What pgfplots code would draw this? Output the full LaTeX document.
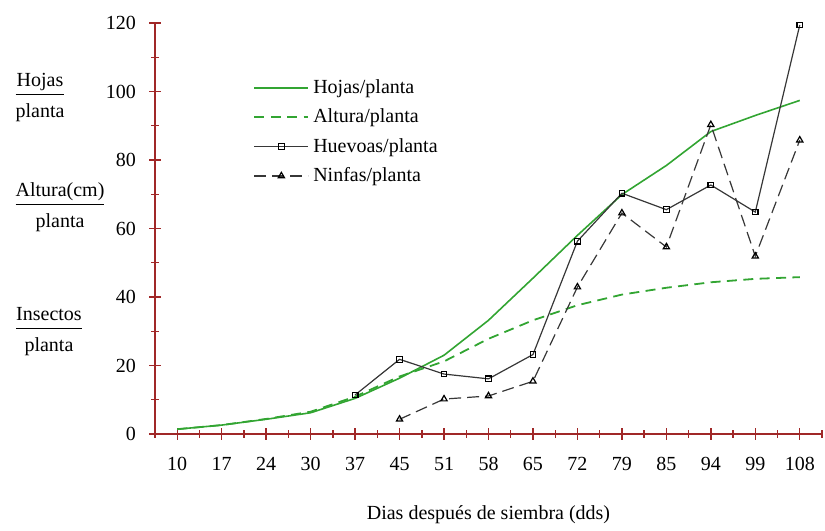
\documentclass[border=0pt]{standalone}
\usepackage{pgfplots}
\pgfplotsset{compat=1.18}
\usepackage{fontspec}
\setmainfont{Liberation Serif}
\definecolor{axisred}{RGB}{160,40,40}
\definecolor{hgreen}{RGB}{50,165,50}
\definecolor{dgray}{RGB}{55,55,55}
\setlength{\arrayrulewidth}{0.7pt}
\begin{document}
\begin{tikzpicture}
\begin{axis}[
  scale only axis,
  width=333.5pt, height=205.5pt,
  xmin=-0.5, xmax=14.5, ymin=0, ymax=120,
  axis lines*=left,
  axis line style={draw=axisred, line width=0.8pt},
  every tick/.style={draw=axisred, line width=0.7pt},
  tick align=center,
  major tick length=6pt, minor tick length=4pt,
  xtick={0,...,14},
  xticklabels={10,17,24,30,37,45,51,58,65,72,79,85,94,99,108},
  minor xtick={-0.5,0.5,...,14.5},
  ytick={0,20,...,120},
  minor ytick={10,30,...,110},
  /pgf/number format/assume math mode=true,
  xticklabel style={yshift=-5pt},
  yticklabel style={xshift=-3pt},
  tick label style={font=\fontsize{10}{12}\selectfont},
  xlabel={Dias después de siembra (dds)},
  xlabel style={at={(axis description cs:0.5,-0.197)}, anchor=center, font=\fontsize{10}{12}\selectfont},
  clip=false,
  legend style={at={(rel axis cs:0.147,0.873)}, anchor=north west, draw=none, fill=none,
    font=\fontsize{10}{12}\selectfont, row sep=2.2pt, inner sep=0pt},
  legend cell align=left,
  legend image code/.code={\draw[mark repeat=2,mark phase=2,#1] plot coordinates {(0pt,0pt) (13.5pt,0pt) (27pt,0pt)};},
]
\addplot[hgreen, line width=0.8pt, no marks] coordinates {
(0,1.4) (1,2.6) (2,4.3) (3,6.2) (4,10.4) (5,16.3) (6,23) (7,33.2) (8,45.5) (9,58) (10,69.9) (11,78.4) (12,88.3) (13,93) (14,97.4)};
\addlegendentry{Hojas/planta}
\addplot[hgreen, line width=0.9pt, no marks, dash pattern=on 5pt off 3.2pt] coordinates {
(0,1.4) (1,2.6) (2,4.4) (3,6.5) (4,10.9) (5,16.8) (6,21.2) (7,27.8) (8,33.2) (9,37.6) (10,40.7) (11,42.7) (12,44.3) (13,45.3) (14,45.8)};
\addlegendentry{Altura/planta}
\addplot[dgray, line width=0.6pt, mark=square, mark size=1.4pt, mark options={solid, black, line width=0.6pt}] coordinates {
(4,11.4) (5,21.8) (6,17.5) (7,16.1) (8,23.2) (9,56.3) (10,70.3) (11,65.5) (12,72.7) (13,64.8) (14,119.4)};
\addlegendentry{Huevoas/planta}
\addplot[dgray, line width=0.6pt, dash pattern=on 6pt off 3pt, mark=triangle, mark size=1.8pt, mark options={solid, black, line width=0.6pt}] coordinates {
(5,4.3) (6,10.2) (7,11.1) (8,15.4) (9,42.9) (10,64.5) (11,54.6) (12,90.3) (13,51.9) (14,85.8)};
\addlegendentry{Ninfas/planta}
\node[font=\fontsize{10}{12}\selectfont, inner sep=0pt] at (rel axis cs:-0.1724,0.82) {\begin{tabular}{@{}c@{}}Hojas\\[0pt]\hline\rule{0pt}{11pt}planta\end{tabular}};
\node[font=\fontsize{10}{12}\selectfont, inner sep=0pt] at (rel axis cs:-0.1424,0.552) {\begin{tabular}{@{}c@{}}Altura(cm)\\[0pt]\hline\rule{0pt}{11pt}planta\end{tabular}};
\node[font=\fontsize{10}{12}\selectfont, inner sep=0pt] at (rel axis cs:-0.159,0.2506) {\begin{tabular}{@{}c@{}}Insectos\\[0pt]\hline\rule{0pt}{11pt}planta\end{tabular}};
\coordinate (bl) at (rel axis cs:-0.2324,-0.2214);
\coordinate (tr) at (rel axis cs:1.0045,1.056);
\end{axis}
\path (bl) rectangle (tr);
\end{tikzpicture}
\end{document}
